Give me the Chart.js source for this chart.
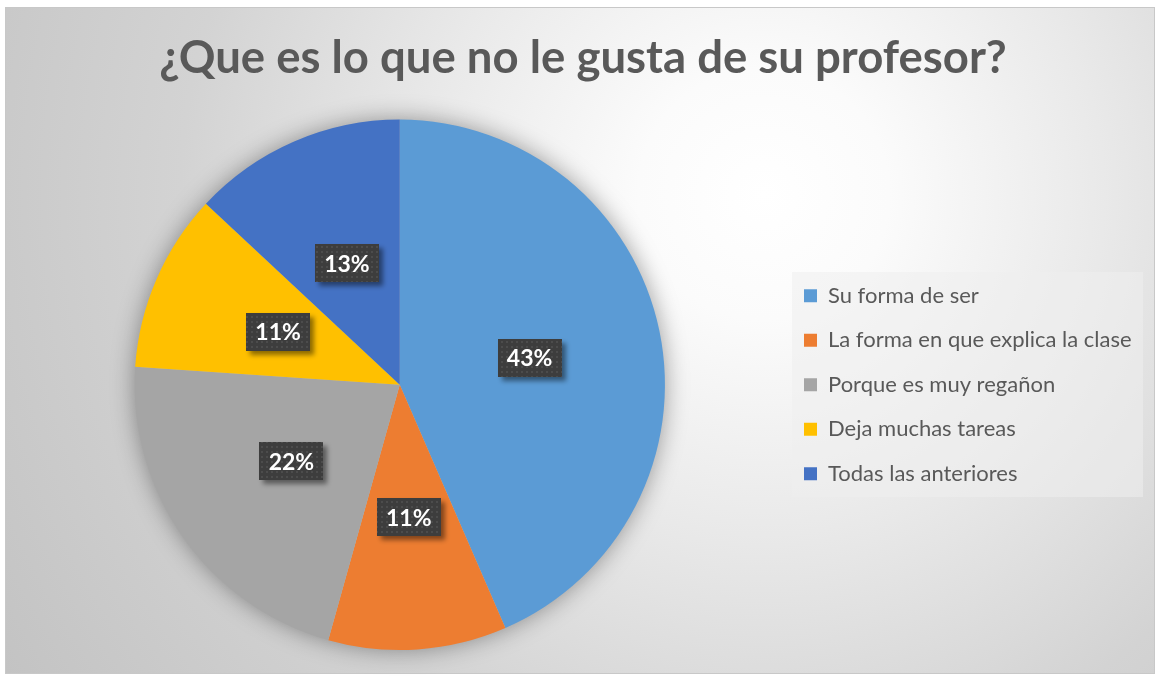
<!DOCTYPE html>
<html>
<head>
<meta charset="utf-8">
<script src="https://cdn.jsdelivr.net/npm/chart.js@4"></script>
<style>
  html, body { margin: 0; padding: 0; background: #fff; }
  #frame {
    position: absolute; left: 5px; top: 7px; width: 1150px; height: 667px;
    border: 1px solid #c8c8c8; box-sizing: border-box;
    background: radial-gradient(circle at 66% 28%, #ffffff 0%, #fbfbfb 14%, #e9e9e9 38%, #d3d3d3 65%, #c3c3c3 100%);
  }
  #wrap { position: absolute; left: 0; top: 0; width: 1157px; height: 677px; }
</style>
</head>
<body>
<div id="frame"></div>
<div id="wrap"><canvas id="pie" width="1157" height="677"></canvas></div>
<script>
// data (counts, shown as %)
const categories = ['Su forma de ser', 'La forma en que explica la clase', 'Porque es muy regañon', 'Deja muchas tareas', 'Todas las anteriores'];
const counts = [20, 5, 10, 5, 6];
const sliceColors = ['#5B9BD5', '#ED7D31', '#A5A5A5', '#FFC000', '#4472C4'];
const chartTitle = '¿Que es lo que no le gusta de su profesor?';

const textGray = '#595959';
const legendWidth = 366.5;

// dark dotted texture for the data label boxes
function makeTexture() {
    const c = document.createElement('canvas');
    c.width = 5; c.height = 5;
    const g = c.getContext('2d');
    g.fillStyle = '#3d3d3d';
    g.fillRect(0, 0, 5, 5);
    g.fillStyle = '#4c4c4c';
    g.fillRect(1, 1, 2, 2);
    return c;
}
const texture = makeTexture();

// keep legend at a fixed width so it sits where the original one is
const legendWidthFix = {
    id: 'legendWidthFix',
    beforeUpdate(chart) {
        const lg = chart.legend;
        if (lg && !lg._fixed) {
            const fit = lg.fit;
            lg.fit = function () {
                fit.call(this);
                this.width = legendWidth;
            };
            lg._fixed = true;
        }
    }
};

// soft light box behind the legend
const legendBox = {
    id: 'legendBox',
    beforeDraw(chart) {
        const boxes = chart.legend && chart.legend.legendHitBoxes;
        if (!boxes || !boxes.length) return;
        const first = boxes[0], last = boxes[boxes.length - 1];
        const ctx = chart.ctx;
        const x = Math.round(first.left - 12);
        const y = Math.round(first.top - 13);
        const w = Math.round(chart.legend.right - 5) - x;
        const h = Math.round(last.top + last.height + 12) - y;
        ctx.save();
        ctx.fillStyle = 'rgba(238,238,238,0.55)';
        ctx.fillRect(x, y, w, h);
        ctx.restore();
    }
};

// blurred shadow under the whole pie
const pieShadow = {
    id: 'pieShadow',
    beforeDatasetsDraw(chart) {
        const arc = chart.getDatasetMeta(0).data[0];
        if (!arc) return;
        const ctx = chart.ctx;
        ctx.save();
        ctx.shadowColor = 'rgba(0,0,0,0.4)';
        ctx.shadowBlur = 24;
        ctx.fillStyle = '#bbbbbb';
        ctx.beginPath();
        ctx.arc(arc.x, arc.y, arc.outerRadius - 1, 0, Math.PI * 2);
        ctx.fill();
        ctx.restore();
    }
};

// percentage labels in dark boxes
const sliceLabels = {
    id: 'sliceLabels',
    afterDatasetsDraw(chart) {
        const ctx = chart.ctx;
        const total = counts.reduce((a, b) => a + b, 0);
        const pattern = ctx.createPattern(texture, 'repeat');
        chart.getDatasetMeta(0).data.forEach((arc, i) => {
            const p = arc.tooltipPosition();
            const txt = Math.round(counts[i] / total * 100) + '%';
            const bw = 64, bh = 38;
            const bx = Math.round(p.x - bw / 2), by = Math.round(p.y - bh / 2);
            ctx.save();
            ctx.shadowColor = 'rgba(0,0,0,0.45)';
            ctx.shadowBlur = 5;
            ctx.shadowOffsetX = 4;
            ctx.shadowOffsetY = 4;
            ctx.fillStyle = pattern;
            ctx.fillRect(bx, by, bw, bh);
            ctx.restore();
            ctx.save();
            ctx.fillStyle = '#ffffff';
            ctx.font = 'bold 23px Lato';
            ctx.textAlign = 'center';
            ctx.textBaseline = 'middle';
            ctx.fillText(txt, p.x, p.y + 1);
            ctx.restore();
        });
    }
};

new Chart(document.getElementById('pie'), {
    type: 'pie',
    data: {
        labels: categories,
        datasets: [{
            data: counts,
            backgroundColor: sliceColors,
            borderWidth: 0
        }]
    },
    options: {
        responsive: false,
        animation: false,
        layout: { padding: { left: 18, right: 9, top: 7, bottom: 27 } },
        plugins: {
            tooltip: { enabled: false },
            title: {
                display: true,
                text: chartTitle,
                color: textGray,
                font: { family: 'Lato', size: 45.5, weight: 'bold', lineHeight: 1.2 },
                padding: { top: 24, bottom: 34 }
            },
            legend: {
                position: 'right',
                align: 'center',
                fullSize: false,
                labels: {
                    color: textGray,
                    font: { family: 'Lato', size: 22 },
                    boxWidth: 13,
                    boxHeight: 13,
                    padding: 22.5
                }
            }
        }
    },
    plugins: [legendWidthFix, legendBox, pieShadow, sliceLabels]
});
</script>
</body>
</html>
